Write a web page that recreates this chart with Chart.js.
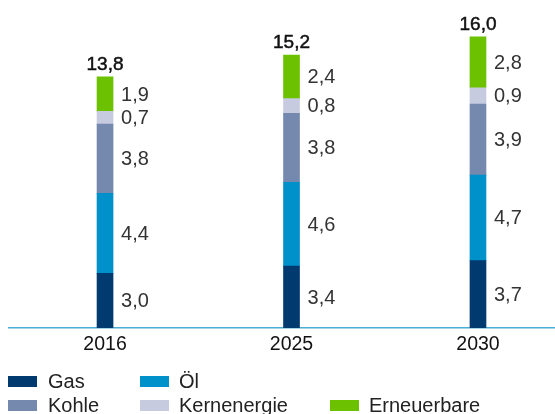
<!DOCTYPE html>
<html>
<head>
<meta charset="utf-8">
<script src="https://cdn.jsdelivr.net/npm/chart.js@4/dist/chart.umd.min.js"></script>
<style>
  html, body { margin: 0; padding: 0; background: #ffffff; overflow: hidden; }
  #wrap { position: relative; width: 555px; height: 414px; }
</style>
</head>
<body>
<div id="wrap"><canvas id="c" width="555" height="414"></canvas></div>
<script>
const categories = ['2016', '2025', '2030'];
const gas = [3.0, 3.4, 3.7];
const oel = [4.4, 4.6, 4.7];
const kohle = [3.8, 3.8, 3.9];
const kernenergie = [0.7, 0.8, 0.9];
const erneuerbare = [1.9, 2.4, 2.8];
const totals = [13.8, 15.2, 16.0];

const seriesNames = ['Gas', 'Öl', 'Kohle', 'Kernenergie', 'Erneuerbare'];
const seriesValues = [gas, oel, kohle, kernenergie, erneuerbare];
const seriesColors = ['#003A6E', '#0091CA', '#7589AF', '#C6CBE0', '#6CC100'];

const fmt = v => v.toFixed(1).replace('.', ',');
const SANS = '"Liberation Sans", Arial, Helvetica, sans-serif';

const datasets = seriesNames.map((name, s) => ({
  label: name,
  data: seriesValues[s].map((v, i) => ({ x: i, y: v })),
  backgroundColor: seriesColors[s],
  borderWidth: 0,
  barThickness: 16
}));

const labelPlugin = {
  id: 'labels',
  afterDatasetsDraw(chart) {
    const ctx = chart.ctx;
    ctx.save();
    ctx.fillStyle = '#333333';
    ctx.font = '400 20px ' + SANS;
    ctx.textAlign = 'left';
    ctx.textBaseline = 'middle';
    chart.data.datasets.forEach((ds, di) => {
      const meta = chart.getDatasetMeta(di);
      meta.data.forEach((bar, i) => {
        const y = (bar.y + bar.base) / 2;
        ctx.fillText(fmt(seriesValues[di][i]), bar.x + bar.width / 2 + 8, y + 1);
      });
    });
    const topMeta = chart.getDatasetMeta(chart.data.datasets.length - 1);
    ctx.fillStyle = '#111111';
    ctx.strokeStyle = '#111111';
    ctx.lineWidth = 0.5;
    ctx.font = '400 19px ' + SANS;
    ctx.textAlign = 'center';
    ctx.textBaseline = 'alphabetic';
    topMeta.data.forEach((bar, i) => {
      ctx.fillText(fmt(totals[i]), bar.x, bar.y - 7);
      ctx.strokeText(fmt(totals[i]), bar.x, bar.y - 7);
    });
    ctx.restore();
  }
};

const legendPlugin = {
  id: 'customLegend',
  afterDraw(chart) {
    const ctx = chart.ctx;
    const slots = [0, 1, 3, 4, 5];
    const colSwatch = [8, 140, 330];
    const colText = [48, 179, 369];
    const rowSwatch = [376, 400];
    const rowText = [381, 405];
    ctx.save();
    ctx.font = '400 20px ' + SANS;
    ctx.textBaseline = 'middle';
    ctx.textAlign = 'left';
    chart.data.datasets.forEach((ds, di) => {
      const col = slots[di] % 3, row = Math.floor(slots[di] / 3);
      ctx.fillStyle = ds.backgroundColor;
      ctx.fillRect(colSwatch[col], rowSwatch[row], 29, 11);
      ctx.fillStyle = '#222222';
      ctx.fillText(ds.label, colText[col], rowText[row] + 1);
    });
    ctx.restore();
  }
};

new Chart(document.getElementById('c'), {
  type: 'bar',
  data: { datasets },
  options: {
    responsive: false,
    animation: false,
    layout: { padding: { top: 9.5, left: 9, right: 0, bottom: 0 } },
    plugins: { legend: { display: false }, tooltip: { enabled: false } },
    scales: {
      x: {
        type: 'linear',
        stacked: true,
        offset: false,
        min: -0.515,
        max: 2.413,
        afterFit(scale) { scale.height = 86; },
        grid: { display: false, drawTicks: false, offset: false },
        border: { display: true, color: '#4BAED6', width: 1.5 },
        ticks: {
          stepSize: 1,
          includeBounds: false,
          autoSkip: false,
          maxRotation: 0,
          padding: 5,
          color: '#111111',
          font: { family: SANS, size: 19.5, weight: '400' },
          callback: v => categories[v] !== undefined ? categories[v] : ''
        }
      },
      y: {
        stacked: true,
        display: false,
        min: 0,
        max: 17.5
      }
    }
  },
  plugins: [labelPlugin, legendPlugin]
});
</script>
</body>
</html>
